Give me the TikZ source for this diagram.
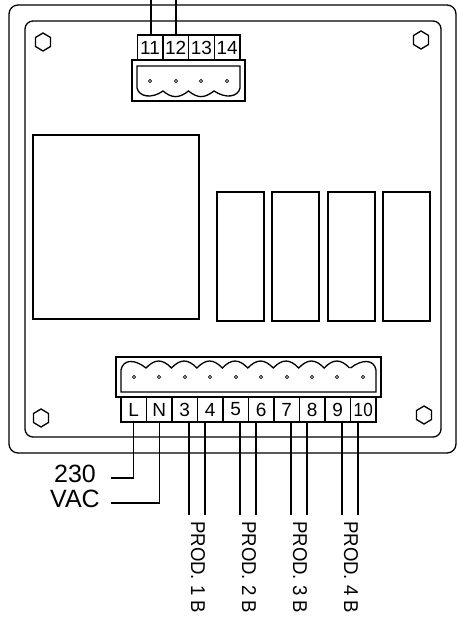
\documentclass[tikz,border=0pt]{standalone}
\usepackage{fontspec}
\setmainfont{Liberation Sans}
\usetikzlibrary{calc}
\tikzset{
  ln/.style={line width=1.3pt,line join=miter},
  term/.style={draw,line width=1.3pt,minimum width=25.5pt,minimum height=25pt,inner sep=0pt,outer sep=0pt,font=\fontsize{19}{19}\selectfont},
  termt/.style={draw,line width=1.3pt,minimum width=25.7pt,minimum height=25pt,inner sep=0pt,outer sep=0pt,font=\fontsize{19}{19}\selectfont},
  relay/.style={draw,line width=1.3pt,minimum width=47pt,minimum height=129pt,inner sep=0pt,outer sep=0pt},
  hexa/.style={ln},
  pin/.style={draw,line width=0.7pt,circle,minimum size=3.2pt,inner sep=0pt},
  prod/.style={rotate=-90,inner sep=0pt,font=\fontsize{20}{20}\selectfont},
  volt/.style={inner sep=0pt,font=\fontsize{25}{25}\selectfont}
}
\newcommand{\hexat}[2]{\draw[hexa] (#1,#2-9) -- (#1+7.5,#2-4.5) -- (#1+7.5,#2+4.5) -- (#1,#2+9) -- (#1-7.5,#2+4.5) -- (#1-7.5,#2-4.5) -- cycle;}
\newcommand{\prodtext}[1]{\scalebox{.93}[1]{PROD. #1 B}}
\begin{document}
\begin{tikzpicture}[x=1pt,y=-1pt]
\useasboundingbox (0,0) rectangle (457,620);
% housing
\draw[ln,rounded corners=9pt] (9,5) rectangle (456,453);
\draw[ln,rounded corners=8pt] (25,21) rectangle (441,437);
% mounting screws
\hexat{43}{42}
\hexat{421}{40}
\hexat{41}{418}
\hexat{424}{415}
% transformer and relays
\node[draw,line width=1.3pt,minimum width=166pt,minimum height=184pt,inner sep=0pt,outer sep=0pt] (xfmr) at (116,227) {};
\node[relay] (r1) at (240.5,256.5) {};
\node[relay] (r2) at (295.5,256.5) {};
\node[relay] (r3) at (351.5,256.5) {};
\node[relay] (r4) at (406.5,256.5) {};
% top connector
\draw[ln] (132,60) rectangle (245,101);
\draw[ln] (137,66) -- (240,66) -- (240,88)
  .. controls (238,97) and (226,99) .. (214,91)
  .. controls (204,98.5) and (198,98.5) .. (188.5,91)
  .. controls (179,98.5) and (172,98.5) .. (163,91)
  .. controls (152,99) and (139,97) .. (137,88) -- cycle;
\node[pin] (p11) at (150,81) {};
\node[pin] (p12) at (176,81) {};
\node[pin] (p13) at (201,81) {};
\node[pin] (p14) at (227,81) {};
\foreach \n/\x in {11/150,12/175.7,13/201.4,14/227.1}
  \node[termt] (t\n) at (\x,47.5) {\n};
\coordinate (w11) at (151,0);
\coordinate (w12) at (176,0);
\draw[ln] (w11) -- (w11 |- t11.north);
\draw[ln] (w12) -- (w12 |- t12.north);
% bottom connector
\draw[ln] (116,357) rectangle (381,397);
\draw[ln] (350.5,368) .. controls (362,359) and (374,359) .. (376,370) -- (376,392) -- (121,392) -- (121,370)
  .. controls (123,359) and (135,359) .. (146,368)
  \foreach \k in {1,...,8} { .. controls (146+25.45*\k-16.5,358.7) and (146+25.45*\k-9,358.7) .. (146+25.45*\k,368) };
\foreach \i/\x in {1/134,2/159,3/185,4/210,5/236,6/261,7/287,8/312,9/337,10/363}
  \node[pin] (b\i) at (\x,377) {};
\foreach \n/\x in {L/133.75,N/159.25,3/184.75,4/210.25,5/235.75,6/261.25,7/286.75,8/312.25,9/337.75}
  \node[term] (t\n) at (\x,409.5) {\n};
\node[term] (t10) at (363.25,409.5) {\scalebox{.9}[1]{10}};
% supply wires
\coordinate (eL) at (111,478);
\coordinate (eN) at (111,503);
\draw[ln] (tL.south) -- (tL.south |- eL) -- (eL);
\draw[ln] (tN.south) -- (tN.south |- eN) -- (eN);
\node[volt] (v1) at (75,474) {230};
\node[volt] (v2) at (75,499) {VAC};
% product wires
\foreach \n/\x in {3/189,4/205,5/240,6/256,7/291,8/307,9/342,10/358}{
  \coordinate (e\n) at (\x,515);
  \draw[ln] (e\n |- t\n.south) -- (e\n);
}
\node[prod,anchor=west] (l1) at (198,521) {\prodtext{1}};
\node[prod,anchor=west] (l2) at (249,521) {\prodtext{2}};
\node[prod,anchor=west] (l3) at (300,521) {\prodtext{3}};
\node[prod,anchor=west] (l4) at (351,521) {\prodtext{4}};
\end{tikzpicture}
\end{document}
